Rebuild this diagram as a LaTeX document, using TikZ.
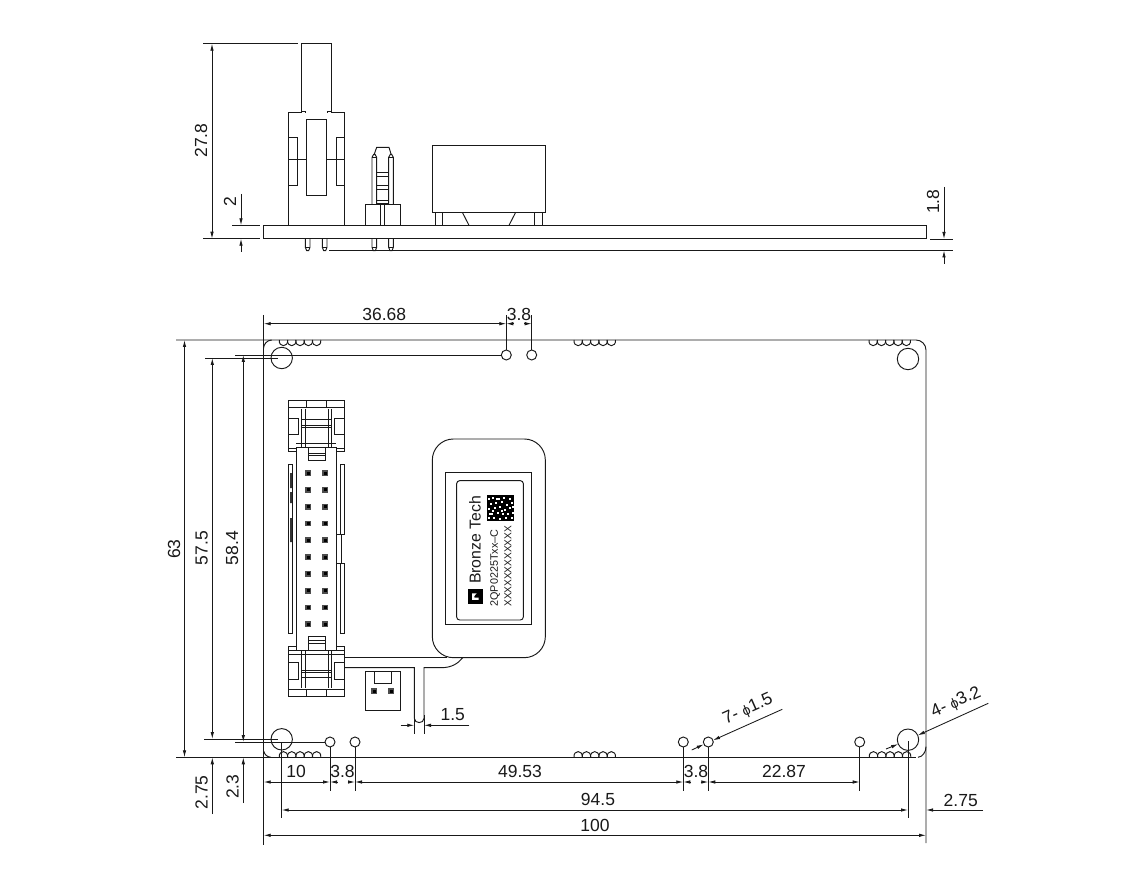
\documentclass[tikz,border=0pt]{standalone}
\usepackage{fontspec}
\setmainfont{Liberation Sans}
\usetikzlibrary{arrows.meta}
\tikzset{
  >={Latex[length=7pt,width=3.5pt]},
  part/.style={line width=.95pt,draw=black!90},
  dimline/.style={line width=.85pt,draw=black!90},
  val/.style={inner sep=0pt,font=\fontsize{17.5}{20}\selectfont,text=black!90},
  valv/.style={val,rotate=90},
  lead/.style={val,rotate=24},
  zoomed/.style={x=.33333pt,y=-.33333pt}
}
\newcommand{\phisym}{{\fontsize{14}{16}\selectfont ϕ}}
\newcommand{\coilD}[2]{% hanging down from the line
  \foreach \i in {0,...,4}{\draw[part] ({#1+\i*8.3},#2) .. controls ({#1+\i*8.3-.8},{#2+7.6}) and ({#1+\i*8.3+9.1},{#2+7.6}) .. ({#1+\i*8.3+8.3},#2);}}
\newcommand{\coilU}[2]{% standing on the line
  \foreach \i in {0,...,4}{\draw[part] ({#1+\i*8.3},#2) .. controls ({#1+\i*8.3-.8},{#2-7.6}) and ({#1+\i*8.3+9.1},{#2-7.6}) .. ({#1+\i*8.3+8.3},#2);}}
\newcommand{\pinsq}[2]{\fill[black!70] ({#1-2.9},{#2-2.9}) rectangle ({#1+2.9},{#2+2.9});\fill[black] ({#1-1.5},{#2-1.5}) rectangle ({#1+1.5},{#2+1.5});}
\begin{document}
\begin{tikzpicture}[x=1pt,y=-1pt]
\useasboundingbox (0,0) rectangle (1122,882);
\fill[white] (0,0) rectangle (1122,882);

% ---------- side view (zoom coordinates) ----------
\begin{scope}[shift={(190,30)},zoomed]
  \draw[part] (296,586)--(296,247)--(334,247)--(334,41)--(424,41)--(424,247)--(463,247)--(463,586);
  \draw[part] (334,244)--(347,244)--(347,249) (424,244)--(413,244)--(413,249);
  \draw[part] (349,269) rectangle (410,497);
  \draw[part] (296,322) rectangle (321,467);
  \draw[part] (438,322) rectangle (463,467);
  \draw[part] (296,387)--(349,387) (410,387)--(463,387);
  % PCB
  \draw[part] (220,586) rectangle (2210,626);
  % pins under the board
  \foreach \p in {346,397,546,596}{
    \draw[part] (\p,626)--(\p,652)--(\p+4,662)--(\p+10,662)--(\p+14,652)--(\p+14,626);
    \draw[part] (\p,652)--(\p+14,652);
  }
  % header
  \draw[part] (527,586)--(527,523)--(630,523)--(630,586);
  \draw[part] (572,523)--(572,586) (583,523)--(583,586);
  \foreach \p in {546,596}{
    \draw[part] (\p,523)--(\p,382)--(\p+5,373)--(\p+9,373)--(\p+14,382)--(\p+14,523);
    \draw[part] (\p,382)--(\p+14,382);
  }
  \draw[part] (552,375)--(560,352)--(597,352)--(604,375);
  \foreach \r in {427,440,465,478,510,520}{\draw[part] (560,\r)--(596,\r);}
  % relay
  \draw[part] (727,347) rectangle (1066,547);
  \draw[part] (736,547)--(736,586) (757,547)--(757,586) (1034,547)--(1034,586) (1056,547)--(1056,586);
  \draw[part] (817,547)--(837,586) (977,547)--(957,586);
\end{scope}
% side view extension lines and dimensions
\draw[dimline] (203.3,43.7)--(297.7,43.7) (203,238.7)--(260,238.7) (232,225.3)--(260,225.3);
\draw[dimline,<->] (212,43.7)--(212,238.7);
\draw[dimline,->] (241,194)--(241,225.3);
\draw[dimline,->] (241,252)--(241,238.7);
\draw[dimline] (329.3,250.5)--(953,250.5) (930,239)--(953,239);
\draw[dimline,->] (944,187)--(944,239);
\draw[dimline,->] (944,264)--(944,250.5);
\node[valv] (d278) at (201,140.7) {27.8};
\node[valv] (d2) at (230,202) {2};
\node[valv] (d18) at (933,201.7) {1.8};

% ---------- plan view: board ----------
\draw[part] (176,340)--(916,340) .. controls (921.5,340) and (926,344.5) .. (926,350)--(926,843);
\draw[part] (176,757.3)--(916,757.3);
\draw[part] (263.7,315)--(263.7,845);
\draw[part] (263.5,348.4) .. controls (263.7,344) and (267,340.2) .. (271.7,340);
\draw[part] (263.7,751) .. controls (264.5,754.5) and (267,757) .. (271,757.3);
\draw[part] (918,757.3) .. controls (922.5,757) and (926,752) .. (926,746.7);
% mounting holes
\foreach \x/\y in {281.7/358,908/359,281.7/739.3,908/739.7}{\draw[part] (\x,\y) circle[radius=10.7];}
% small holes
\foreach \x/\y in {506.3/355,531.7/355,330/742,355/742,683.3/742,708.3/742,859.7/742}{\draw[part] (\x,\y) circle[radius=5];}
% coils
\coilD{279.3}{340}\coilD{574}{340}\coilD{869}{340}
\coilU{279.3}{757.3}\coilU{574}{757.3}\coilU{869.3}{757.3}

% ---------- box connector (zoom coordinates) ----------
\begin{scope}[shift={(250,390)},zoomed]
  \draw[part] (116,185)--(116,30)--(283,30)--(283,185);
  \draw[part] (116,52)--(283,52);
  \draw[part] (170,30) rectangle (230,52);
  \draw[part] (116,85) rectangle (146,133);
  \draw[part] (253,85) rectangle (283,133);
  \foreach \v in {154,165,235,245}{\draw[part] (\v,57)--(\v,172);}
  \foreach \h in {88,105,111}{\draw[part] (154,\h)--(245,\h);}
  \draw[part] (139,160)--(259,160) (139,172)--(259,172);
  \draw[part] (116,175)--(139,175) (116,185)--(139,185) (259,175)--(283,175) (259,185)--(283,185);
  \draw[part] (175,172)--(175,212)--(225,212)--(225,172);
  \draw[part] (175,190)--(225,190) (175,197)--(225,197);
  \draw[part] (139,172)--(139,782);
  \draw[part] (259,172)--(259,782);
\end{scope}
% side strips
\draw[part] (288.7,464) rectangle (292.7,633);
\draw[part] (340,464)--(344.3,464)--(344.3,534)--(336,534);
\draw[part] (340,464)--(340,534);
\draw[part] (341,534)--(341,563.3);
\draw[part] (336,563.3)--(344.3,563.3)--(344.3,633)--(340,633)--(340,563.3);
\fill[black!80] (290,473) rectangle (291.8,488) (290,492) rectangle (291.8,503) (290,518) rectangle (291.8,542);
% header pins
\foreach \r in {0,...,9}{\pinsq{308.3}{473+\r*16.8}\pinsq{325}{473+\r*16.8}}
\begin{scope}[shift={(250,620)},zoomed]
  \draw[part] (175,90)--(175,50)--(225,50)--(225,90);
  \draw[part] (175,62)--(225,62) (175,70)--(225,70);
  \draw[part] (116,78)--(116,229)--(283,229)--(283,78);
  \draw[part] (116,78)--(139,78) (259,78)--(283,78);
  \draw[part] (116,90)--(283,90) (116,103)--(283,103);
  \draw[part] (116,128) rectangle (146,178);
  \draw[part] (253,128) rectangle (283,178);
  \foreach \v in {154,165,235,245}{\draw[part] (\v,92)--(\v,205);}
  \foreach \h in {150,158,172}{\draw[part] (154,\h)--(245,\h);}
  \draw[part] (116,208)--(283,208);
  \draw[part] (170,208) rectangle (230,229);
  % wires
  \draw[part] (283,113)--(590,113);
  \draw[part] (283,143)--(493,143)--(493,295) .. controls (493,312) and (522,312) .. (522,295)--(522,143)--(575,143) .. controls (605,143) and (625,130) .. (638,113);
  % small connector
  \draw[part] (347,155) rectangle (450,272);
  \draw[part] (373,155)--(373,189)--(425,189)--(425,155);
\end{scope}
\pinsq{374.3}{691}\pinsq{391}{691}

% ---------- module and label (zoom coordinates) ----------
\begin{scope}[shift={(420,430)},zoomed]
  \draw[part,rounded corners=21pt] (37,27) rectangle (376,683);
  \draw[part] (77,127) rectangle (335,582);
  \draw[part,rounded corners=3pt] (110,152) rectangle (310,570);
  \fill[black] (143,478) rectangle (188,523);
  \fill[white] (156,490) rectangle (163,510) (156,503) rectangle (176,510) (163,490)--(170,490)--(163,498)--cycle;
  \fill[black] (200,195) rectangle (283,272);
  \foreach \a/\b in {
    205/205,217/200,235/205,250/200,268/205,210/220,226/215,244/212,258/222,272/215,
    205/235,222/232,238/228,252/238,266/232,212/250,230/246,246/250,262/250,276/246,
    205/262,220/262,238/264,255/262,272/262,228/205,216/240,242/240,276/228,206/248}
    {\fill[white] (\a,\b) rectangle ++(6,6);}
\end{scope}
\node[rotate=90,inner sep=0pt,font=\fontsize{15.8}{18}\selectfont,text=black!90] (brand) at (475,540) {Bronze Tech};
\node[rotate=90,inner sep=0pt,font=\fontsize{10.8}{12}\selectfont,text=black!90] (model) at (495,568) {2QP0225Txx–C};
\node[rotate=90,inner sep=0pt,font=\fontsize{10.1}{12}\selectfont,text=black!90] (serial) at (508,566.3) {XXXXXXXXXXXX};

% ---------- plan view dimensions ----------
% left
\draw[dimline,<->] (184.5,340)--(184.5,757.3);
\draw[dimline] (204,739)--(278,739) (205,358)--(278,358) (235,742)--(325,742) (235,355)--(501,355);
\draw[dimline,<->] (212.3,358)--(212.3,739);
\draw[dimline,->] (212.3,814)--(212.3,757.3);
\draw[dimline,<->] (243.3,355)--(243.3,742);
\draw[dimline,->] (243.3,803)--(243.3,757.3);
\node[valv] (d63) at (174,549) {63};
\node[valv] (d575) at (201.7,548) {57.5};
\node[valv] (d584) at (232,548) {58.4};
\node[valv] (d275l) at (201.7,792.3) {2.75};
\node[valv] (d23) at (232.7,786.7) {2.3};
% top
\draw[dimline] (506.3,350)--(506.3,315) (531.7,350)--(531.7,315);
\draw[dimline,<->] (263.7,323.7)--(506.3,323.7);
\draw[dimline,->] (514,323.7)--(506.3,323.7);
\draw[dimline,->] (524,323.7)--(531.7,323.7);
\node[val] (d3668) at (384.3,314) {36.68};
\node[val] (d38t) at (519,314) {3.8};
% bottom row 1
\foreach \x in {330,355,683.3,708.3,859.7}{\draw[dimline] (\x,747)--(\x,790.7);}
\draw[dimline,<->] (263.7,782)--(330,782);
\draw[dimline,->] (337.5,782)--(330,782);
\draw[dimline,->] (347.5,782)--(355,782);
\draw[dimline,<->] (355,782)--(683.3,782);
\draw[dimline,->] (691,782)--(683.3,782);
\draw[dimline,->] (700.6,782)--(708.3,782);
\draw[dimline,<->] (708.3,782)--(859.7,782);
\node[val] (d10) at (296,771.7) {10};
\node[val] (d38a) at (342.5,771.7) {3.8};
\node[val] (d4953) at (520,771.7) {49.53};
\node[val] (d38b) at (696,771.7) {3.8};
\node[val] (d2287) at (784,771.7) {22.87};
% bottom row 2
\draw[dimline] (281.7,742)--(281.7,818) (908,741)--(908,818);
\draw[dimline,<->] (281.7,810)--(908,810);
\draw[dimline,->] (983,810)--(926,810);
\node[val] (d945) at (598,799) {94.5};
\node[val] (d275r) at (960.7,800) {2.75};
% bottom row 3
\draw[dimline,<->] (263.7,835.3)--(926,835.3);
\node[val] (d100) at (595,825) {100};
% 1.5
\draw[dimline] (414.3,715)--(414.3,734.3) (424,715)--(424,734.3);
\draw[dimline,->] (400.7,725.3)--(414.3,725.3);
\draw[dimline,->] (469.3,725.3)--(424,725.3);
\node[val] (d15) at (452.7,715) {1.5};
% leaders
\draw[dimline,->] (691.7,750)--(703.7,744.4);
\draw[dimline,->] (782.3,709.3)--(713,740.3);
\node[lead] (h7) at (748,709.5) {7- \phisym 1.5};
\draw[dimline,->] (886,749)--(898.2,744.1);
\draw[dimline,->] (988.3,703.3)--(917.8,735.3);
\node[lead] (h4) at (956,702.5) {4- \phisym 3.2};
\end{tikzpicture}
\end{document}
